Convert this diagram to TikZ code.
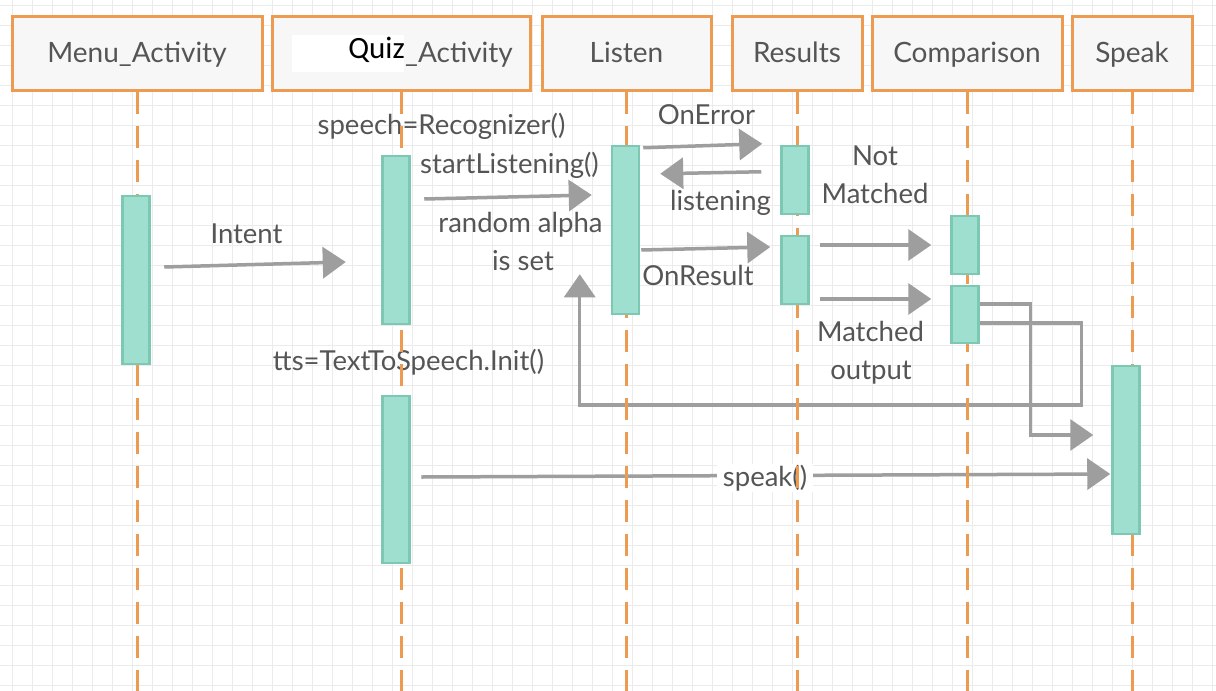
\documentclass[tikz,border=0pt]{standalone}
\usepackage{fontspec}
\setmainfont{Lato}
\newfontfamily\quizfont{Carlito}
\usetikzlibrary{arrows.meta,calc}
\definecolor{hdrline}{HTML}{EE9B52}
\definecolor{hdrfill}{HTML}{F7F7F7}
\definecolor{actfill}{HTML}{9EDFCF}
\definecolor{actline}{HTML}{7CC8B3}
\definecolor{msg}{HTML}{9E9E9E}
\definecolor{txt}{HTML}{555555}
\definecolor{gridc}{HTML}{EBEBEB}
\pgfdeclarelayer{bg}
\pgfdeclarelayer{msgs}
\pgfdeclarelayer{life}
\pgfsetlayers{bg,msgs,life,main}
\begin{document}
\begin{tikzpicture}[x=1pt,y=-1pt,
  header/.style={draw=hdrline, line width=3pt, fill=hdrfill, minimum height=74pt,
    inner sep=0pt, text=txt, font=\fontsize{28}{32}\selectfont,
    text height=24pt, text depth=6pt},
  act/.style={draw=actline, fill=actfill, line width=2.5pt, minimum width=27pt, inner sep=0pt},
  lifeline/.style={draw=hdrline, line width=3pt, dash pattern=on 22pt off 12pt},
  msgarrow/.style={draw=msg, line width=3.5pt, -{Triangle[length=23pt,width=31pt]}},
  msgpath/.style={draw=msg, line width=3.2pt, -{Triangle[length=23pt,width=31pt]}},
  lbl/.style={text=txt, font=\fontsize{27.5}{31}\selectfont, inner sep=0pt, anchor=base},
]
\useasboundingbox (0,0) rectangle (1216,691);

% background grid
\begin{pgfonlayer}{bg}
  \fill[white] (0,0) rectangle (1216,691);
  \foreach \gx in {12,32,...,1212} \draw[gridc, line width=1pt] (\gx,0) -- (\gx,691);
  \foreach \gy in {5,25,...,685} \draw[gridc, line width=1pt] (0,\gy) -- (1216,\gy);
\end{pgfonlayer}

% lifeline heads
\node[header, minimum width=250pt] (menuH) at (137,53) {Menu\_Activity};
\node[header, minimum width=258pt] (quizH) at (401,53) {};
\node[header, minimum width=169pt] (listenH) at (626.5,53) {Listen};
\node[header, minimum width=130pt] (resH) at (797,53) {Results};
\node[header, minimum width=190pt] (compH) at (967,53) {Comparison};
\node[header, minimum width=120pt] (speakH) at (1132,53) {Speak};
\node[fill=white, minimum width=112pt, minimum height=37pt, inner sep=0pt] (quizPatch) at (348,53.5) {};
\node[anchor=base east, inner sep=0pt, text=black, font=\quizfont\fontsize{31}{34}\selectfont] (quizWord) at (405,58) {Quiz};
\node[anchor=base west, inner sep=0pt, text=txt, font=\fontsize{28}{32}\selectfont] (quizRest) at (405,62) {\_Activity};

% lifelines
\coordinate (menuEnd) at (137,691);
\coordinate (quizEnd) at (401,691);
\coordinate (listenEnd) at (626.5,691);
\coordinate (resEnd) at (797,691);
\coordinate (compEnd) at (967,691);
\coordinate (speakEnd) at (1132,691);
\begin{pgfonlayer}{life}
  \draw[lifeline] (menuH.south) -- (menuEnd);
  \draw[lifeline] (quizH.south) -- (quizEnd);
  \draw[lifeline] (listenH.south) -- (listenEnd);
  \draw[lifeline] (resH.south) -- (resEnd);
  \draw[lifeline] (compH.south) -- (compEnd);
  \draw[lifeline] (speakH.south) -- (speakEnd);
\end{pgfonlayer}

% activation bars
\node[act, minimum height=168pt] (menuA) at (136,280) {};
\node[act, minimum height=168pt] (quizA) at (396,240) {};
\node[act, minimum height=167pt] (quizB) at (396,479.5) {};
\node[act, minimum height=168pt] (listenA) at (625.5,230) {};
\node[act, minimum height=68pt] (resA) at (795,180) {};
\node[act, minimum height=68pt] (resB) at (795,270) {};
\node[act, minimum height=58pt] (compA) at (965,245) {};
\node[act, minimum height=57pt] (compB) at (965,314.5) {};
\node[act, minimum height=168pt] (speakA) at (1126,450) {};

% messages
\begin{pgfonlayer}{msgs}
  \draw[msgarrow] ($(menuA.east)+(13.5,-13)$) -- ($(quizA.west)+(-35.5,22)$);
  \draw[msgarrow] ($(quizA.east)+(13.5,-41)$) -- ($(listenA.west)+(-19,-35)$);
  \draw[msgarrow] ($(listenA.north east)+(3,3)$) -- ($(resA.north west)+(-18,-1)$);
  \draw[msgarrow] ($(resA.north west)+(-19,27)$) -- ($(listenA.north east)+(20,29)$);
  \draw[msgarrow] ($(listenA.east)+(1,20)$) -- ($(resB.west)+(-10,-23)$);
  \draw[msgarrow] ($(resB.east)+(10,-25)$) -- ($(compA.west)+(-19,0)$);
  \draw[msgarrow] ($(resB.east)+(10,29)$) -- ($(compB.west)+(-19,-15.5)$);
  \draw[msgpath] ($(compB.east)+(-4,-10.5)$) -- ++(55,0) |- ($(speakA.west)+(-18,-15)$);
  \draw[msgpath] ($(compB.east)+(-4,8.5)$) -- ++(106,0) -- ++(0,82) -| ($(listenA.south west)+(-31,-41)$);
  \draw[msgarrow] ($(quizB.east)+(10.5,-2.5)$) -- ($(speakA.west)+(-1,24)$);

  % message labels
  \node[lbl] (lIntent) at (246.5,243) {Intent};
  \node[lbl] (lRecog) at (441.5,134) {speech=Recognizer()};
  \node[lbl] (lStart) at (509.5,173) {startListening()};
  \node[lbl] (lRandom) at (520.5,232) {random alpha};
  \node[lbl] (lIsSet) at (523,270) {is set};
  \node[lbl] (lError) at (706.5,124) {OnError};
  \node[lbl] (lListen) at (720.5,210) {listening};
  \node[lbl] (lResult) at (698,285) {OnResult};
  \node[lbl] (lNot) at (875,165) {Not};
  \node[lbl] (lNotM) at (875,203) {Matched};
  \node[lbl] (lMatch) at (870.5,341) {Matched};
  \node[lbl] (lOut) at (871,379) {output};
  \node[lbl] (lTts) at (408.5,370) {tts=TextToSpeech.Init()};
  \node[text=txt, font=\fontsize{27.5}{31}\selectfont, fill=white, inner xsep=6pt, inner ysep=1pt,
    anchor=base] (lSpeak) at (765,486) {speak()};
\end{pgfonlayer}
\end{tikzpicture}
\end{document}
